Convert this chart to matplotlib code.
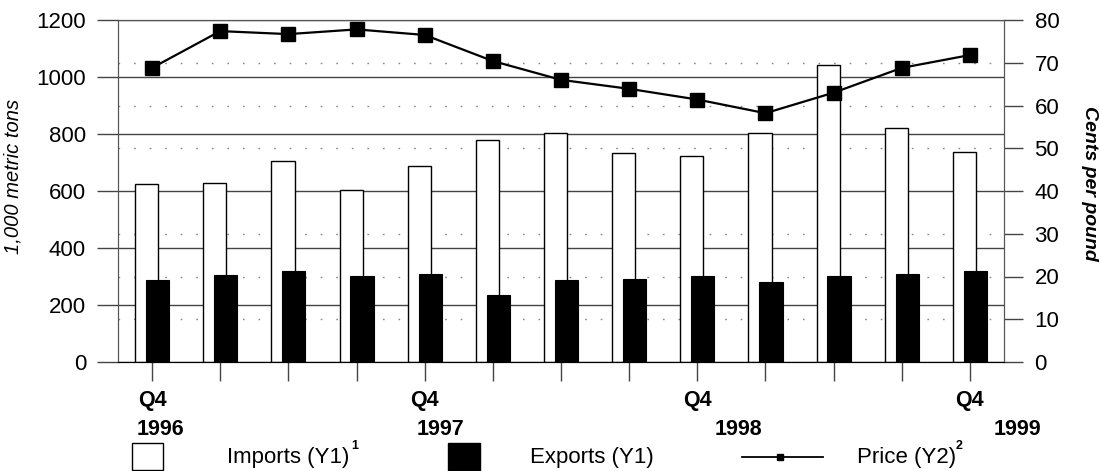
import matplotlib
matplotlib.use('Agg')
import matplotlib.pyplot as plt
import numpy as np
from matplotlib.patches import Rectangle
from matplotlib.lines import Line2D

plt.rcParams['font.family'] = ['Liberation Sans', 'DejaVu Sans']

# data (Q4 1996 .. Q4 1999)
quarters = ['Q4', '', '', '', 'Q4', '', '', '', 'Q4', '', '', '', 'Q4']
years = ['1996', '1997', '1998', '1999']
year_at = [0, 4, 8, 12]
imports = [623, 628, 704, 602, 689, 778, 802, 732, 723, 802, 1041, 822, 736]
exports = [288, 304, 320, 302, 309, 236, 286, 292, 301, 280, 302, 308, 321]
price = [68.8, 77.4, 76.7, 77.8, 76.5, 70.4, 66.0, 63.9, 61.4, 58.2, 63.0, 68.8, 71.8]

W, H = 1101, 471
fig = plt.figure(figsize=(W / 100, H / 100), dpi=100)
ax = fig.add_axes([118 / W, 1 - 362 / H, (1004 - 118) / W, (362 - 20) / H])
ax2 = ax.twinx()

x = np.arange(len(imports))
bw = 0.34
ax.bar(x - 0.08, imports, bw, color='white', edgecolor='black', linewidth=1, zorder=2)
ax.bar(x + 0.08, exports, bw, color='black', edgecolor='black', linewidth=0.8, zorder=3)

ax.set_xlim(-0.5, len(x) - 0.5)
ax.set_ylim(0, 1200)
ax.set_yticks(np.arange(0, 1201, 200))
# dotted lines follow the right-hand scale (every 10 cents)
ax.set_yticks(np.arange(0, 1201, 150), minor=True)
ax.grid(axis='y', which='major', color='#444444', linewidth=1, zorder=0)
ax.grid(axis='y', which='minor', color='#888888', linewidth=1,
        linestyle=(0, (1.2, 10)), zorder=0)
ax.set_axisbelow(True)
ax.tick_params(axis='y', which='minor', length=0)
ax.tick_params(axis='y', which='major', direction='out', length=15, width=1,
               labelsize=16, pad=8, color='#444444')
ax.set_xticks(x)
ax.set_xticklabels(quarters, fontsize=15.5, fontweight='bold')
ax.tick_params(axis='x', direction='out', length=14, width=1, pad=6,
               color='#444444')
for xi, yr, dx in zip(year_at, years, [0.12, 0.23, 0.6, 0.7]):
    ax.text(xi + dx, -0.197, yr, transform=ax.get_xaxis_transform(),
            ha='center', va='center', fontsize=15.5, fontweight='bold')

for s in ['left', 'right', 'top']:
    ax.spines[s].set_color('#555555')
    ax2.spines[s].set_color('#555555')
ax.spines['bottom'].set_color('#333333')

ax.set_ylabel('1,000 metric tons', fontsize=14.5, fontstyle='italic')
ax.yaxis.set_label_coords(-0.108, 0.544)

ax2.plot(x, price, color='black', linewidth=1.6, marker='s', markersize=10,
         markerfacecolor='black', zorder=5)
ax2.set_ylim(0, 80)
ax2.set_yticks(np.arange(0, 81, 10))
ax2.tick_params(axis='y', direction='out', length=14, width=1, labelsize=16,
                pad=8, color='#444444')
ax2.set_ylabel('Cents per pound', fontsize=14, fontstyle='italic',
               fontweight='bold', rotation=-90, va='center')
ax2.yaxis.set_label_coords(1.096, 0.523)

# legend drawn along the bottom edge
fig.add_artist(Rectangle((132 / W, 1 - 470 / H), 31 / W, 27 / H,
                         transform=fig.transFigure, facecolor='white',
                         edgecolor='black', linewidth=1))
fig.text(227 / W, 1 - 457 / H, 'Imports (Y1)', fontsize=16, va='center')
fig.text(351 / W, 1 - 446 / H, '1', fontsize=9, fontweight='bold', va='center')
fig.add_artist(Rectangle((448 / W, 1 - 470 / H), 32 / W, 27 / H,
                         transform=fig.transFigure, facecolor='black',
                         edgecolor='black', linewidth=1))
fig.text(530 / W, 1 - 457 / H, 'Exports (Y1)', fontsize=16, va='center')
fig.add_artist(Line2D([742 / W, 823 / W], [1 - 457 / H, 1 - 457 / H],
                      transform=fig.transFigure, color='black', linewidth=1.3))
fig.add_artist(Line2D([780 / W], [1 - 457 / H], transform=fig.transFigure,
                      marker='s', markersize=5, color='black'))
fig.text(857 / W, 1 - 457 / H, 'Price (Y2)', fontsize=16, va='center')
fig.text(956 / W, 1 - 446 / H, '2', fontsize=9, fontweight='bold', va='center')

fig.savefig('out.png', dpi=100)
